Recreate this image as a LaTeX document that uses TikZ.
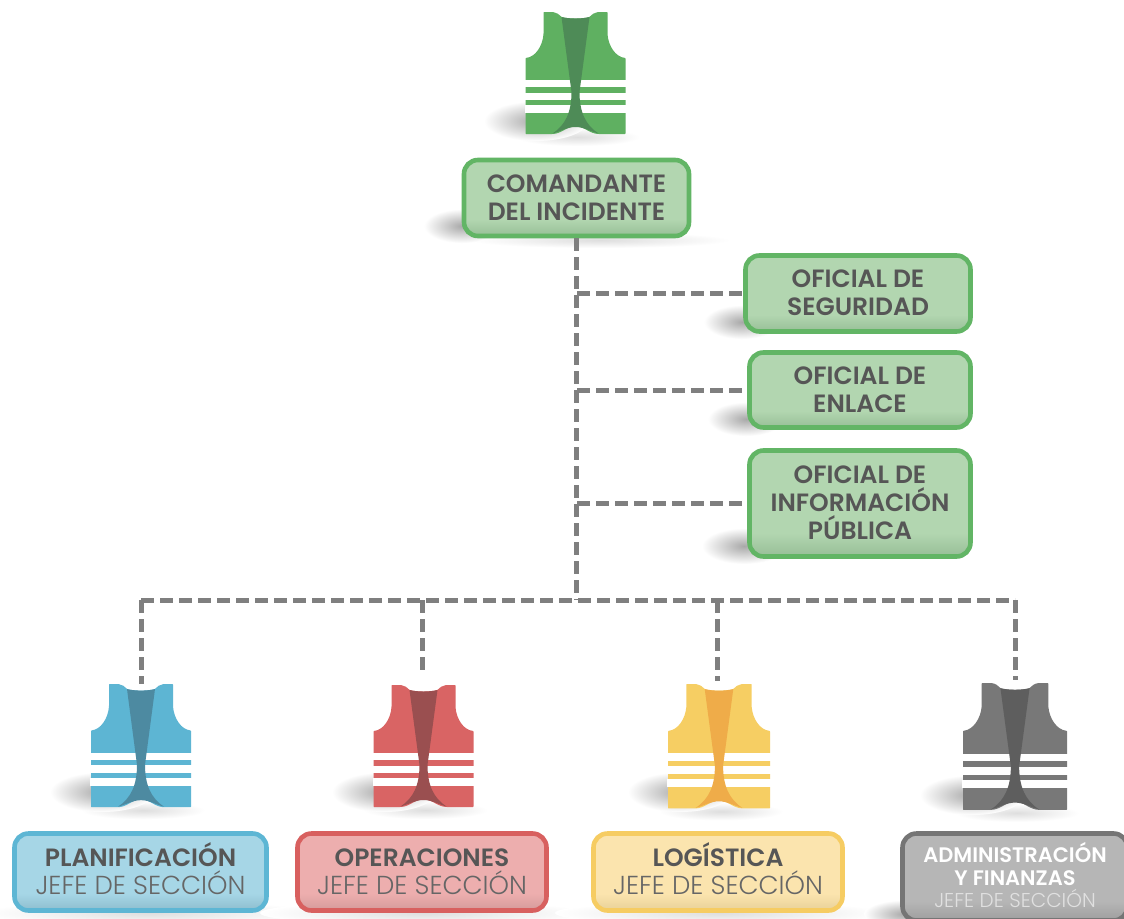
\documentclass[tikz,border=0pt]{standalone}
\usepackage{fontspec}
\setmainfont{Poppins}
\newfontfamily\poplight{Poppins Light}
\newfontfamily\popsemi{Poppins SemiBold}
\definecolor{txt}{HTML}{565656}
\definecolor{subtxt}{HTML}{666666}
\definecolor{dashc}{HTML}{7F7F7F}
\definecolor{gB}{HTML}{62B565}\definecolor{gT}{HTML}{B2D6B0}\definecolor{gS}{HTML}{97BF97}
\definecolor{bB}{HTML}{5DB6D4}\definecolor{bT}{HTML}{A6D6E6}\definecolor{bS}{HTML}{8DBDCE}
\definecolor{rB}{HTML}{D8605F}\definecolor{rT}{HTML}{EDAEAE}\definecolor{rS}{HTML}{D49A9A}
\definecolor{yB}{HTML}{F6CC62}\definecolor{yT}{HTML}{FBE4AE}\definecolor{yS}{HTML}{E8D198}
\definecolor{kB}{HTML}{757575}\definecolor{kT}{HTML}{B6B6B6}\definecolor{kS}{HTML}{9E9E9E}
\definecolor{gVest}{HTML}{5FB061}\definecolor{gDark}{HTML}{4E8B57}
\definecolor{bVest}{HTML}{5DB5D3}\definecolor{bDark}{HTML}{4D8AA1}
\definecolor{rVest}{HTML}{D96464}\definecolor{rDark}{HTML}{9A4F50}
\definecolor{yVest}{HTML}{F6CE63}\definecolor{yDark}{HTML}{EFAC49}
\definecolor{kVest}{HTML}{787878}\definecolor{kDark}{HTML}{5E5E5E}
\pgfdeclareverticalshading{gshade}{100bp}{color(0bp)=(gS);color(25bp)=(gS);color(36bp)=(gT);color(100bp)=(gT)}
\pgfdeclareverticalshading{bshade}{100bp}{color(0bp)=(bS);color(25bp)=(bS);color(36bp)=(bT);color(100bp)=(bT)}
\pgfdeclareverticalshading{rshade}{100bp}{color(0bp)=(rS);color(25bp)=(rS);color(36bp)=(rT);color(100bp)=(rT)}
\pgfdeclareverticalshading{yshade}{100bp}{color(0bp)=(yS);color(25bp)=(yS);color(36bp)=(yT);color(100bp)=(yT)}
\pgfdeclareverticalshading{kshade}{100bp}{color(0bp)=(kS);color(25bp)=(kS);color(36bp)=(kT);color(100bp)=(kT)}
\tikzset{
  basebox/.style={rounded corners=14pt,line width=4.6pt,align=center,inner sep=0pt,
    text=txt,font=\popsemi\fontsize{25}{28}\selectfont},
  greenbox/.style={basebox,draw=gB,shade,shading=gshade},
  bluebox/.style={basebox,draw=bB,shade,shading=bshade},
  redbox/.style={basebox,draw=rB,shade,shading=rshade},
  yellowbox/.style={basebox,draw=yB,shade,shading=yshade},
  graybox/.style={basebox,draw=kB,shade,shading=kshade},
  link/.style={draw=dashc,line width=5pt,dash pattern=on 13pt off 6pt},
  softshadow/.style={inner color=black!34,outer color=white},
  faintshadow/.style={inner color=black!13,outer color=white}
}
\newcommand{\toprule}{\rule{0pt}{22pt}}
\newcommand{\botrule}{\rule[-6pt]{0pt}{6pt}}
\newcommand{\mainline}[1]{\toprule{\fontsize{25}{28}\selectfont #1}}
\newcommand{\subline}[1]{\botrule{\poplight\fontsize{26}{28}\selectfont\color{subtxt}#1}}
\newcommand{\vestshape}[8]{% cx top xs ys light dark shadowx shadowy
  \shade[faintshadow] (#1+2,#2+#4*122+3) ellipse [x radius=62,y radius=9];
  \shade[softshadow] (#7,#8) ellipse [x radius=52,y radius=20];
  \begin{scope}[shift={(#1,#2)},xscale=#3,yscale=#4]
    \fill[#5,rounded corners=0.6pt] (-32,0) -- (-23,0)
      .. controls (-19,0.5) and (-16,2.5) .. (-14,5)
      .. controls (-6,7) and (6,7) .. (14,5)
      .. controls (16,2.5) and (19,0.5) .. (23,0) -- (32,0) -- (32,22)
      .. controls (33,34) and (40,45) .. (50,46) -- (50,122) -- (24,122)
      .. controls (14,122) and (8,114) .. (0,114)
      .. controls (-8,114) and (-14,122) .. (-24,122) -- (-50,122) -- (-50,46)
      .. controls (-40,45) and (-33,34) .. (-32,22) -- cycle;
    \fill[white] (-51,68) rectangle (51,75);
    \fill[white] (-51,80.5) rectangle (51,88);
    \fill[white] (-51,93) rectangle (51,101);
    \fill[#6] (-14,5) .. controls (-6,7) and (6,7) .. (14,5)
      -- (4,80) .. controls (4,100) and (10,113) .. (23,121.5)
      .. controls (14,119) and (8,115) .. (0,115)
      .. controls (-8,115) and (-14,119) .. (-23,121.5)
      .. controls (-10,113) and (-4,100) .. (-4,80) -- cycle;
  \end{scope}
}
\begin{document}
\begin{tikzpicture}[x=1pt,y=-1pt]
\useasboundingbox (0,0) rectangle (1124,918);
\fill[white] (0,0) rectangle (1124,918);
% box shadows
\shade[faintshadow] (600,240) ellipse [x radius=130,y radius=8];
\shade[softshadow] (462,226) ellipse [x radius=38,y radius=17];
\shade[softshadow] (742,322) ellipse [x radius=38,y radius=17];
\shade[softshadow] (746,419) ellipse [x radius=38,y radius=17];
\shade[softshadow] (744,546) ellipse [x radius=42,y radius=18];
\shade[faintshadow] (150,913) ellipse [x radius=170,y radius=12];
\shade[faintshadow] (425,913) ellipse [x radius=165,y radius=12];
\shade[faintshadow] (720,913) ellipse [x radius=165,y radius=12];
\shade[softshadow] (904,914) ellipse [x radius=40,y radius=14];
% vests
\vestshape{575.5}{12}{1}{1}{gVest}{gDark}{536}{121}
\vestshape{141}{684}{1}{1.01}{bVest}{bDark}{102}{792}
\vestshape{423.5}{685}{1}{1}{rVest}{rDark}{384}{792}
\vestshape{719}{684}{1.02}{1.02}{yVest}{yDark}{680}{792}
\vestshape{1015}{683}{1.04}{1.04}{kVest}{kDark}{972}{795}
% junctions and free ends
\coordinate (hub) at (577,600);
\coordinate (hl) at (141,600);
\coordinate (hr) at (1015,600);
\coordinate (vp) at (141,684);
\coordinate (vo) at (422,673);
\coordinate (vl) at (717,681);
\coordinate (va) at (1015,680);
\coordinate (dop) at (422,600);
\coordinate (dlo) at (717,600);
% boxes
\node[greenbox,minimum width=225,minimum height=76] (com) at (576.5,198) {\toprule COMANDANTE\\DEL INCIDENTE\botrule};
\node[greenbox,minimum width=225,minimum height=76] (seg) at (858,293.5) {\toprule OFICIAL DE\\SEGURIDAD\botrule};
\node[greenbox,minimum width=221,minimum height=75] (enl) at (860,390) {\toprule OFICIAL DE\\ENLACE\botrule};
\node[greenbox,minimum width=221,minimum height=106] (inf) at (860,503.5) {\toprule OFICIAL DE\\INFORMACIÓN\\PÚBLICA\botrule};
\node[bluebox,minimum width=252,minimum height=77] (pla) at (140.5,872) {\mainline{PLANIFICACIÓN}\\\subline{JEFE DE SECCIÓN}};
\node[redbox,minimum width=249,minimum height=77] (ope) at (422,872) {\mainline{OPERACIONES}\\\subline{JEFE DE SECCIÓN}};
\node[yellowbox,minimum width=249,minimum height=77] (log) at (718,872) {\mainline{LOGÍSTICA}\\\subline{JEFE DE SECCIÓN}};
\node[graybox,minimum width=225,minimum height=87,text=white,font=\popsemi\fontsize{21}{22.5}\selectfont] (adm) at (1015,877) {\toprule ADMINISTRACIÓN\\Y FINANZAS\\\botrule{\poplight\fontsize{20}{22.5}\selectfont\color{white!88!black}JEFE DE SECCIÓN}};
% connectors
\draw[link] (com.south) -- (com.south |- hub);
\draw[link] (hl) -- (hr);
\draw[link] (seg.west -| hub) -- (seg.west);
\draw[link] (enl.west -| hub) -- (enl.west);
\draw[link] (inf.west -| hub) -- (inf.west);
\draw[link] (hl) -- (vp);
\draw[link] (dop) -- (vo);
\draw[link] (dlo) -- (vl);
\draw[link] (hr) -- (va);
\end{tikzpicture}
\end{document}
